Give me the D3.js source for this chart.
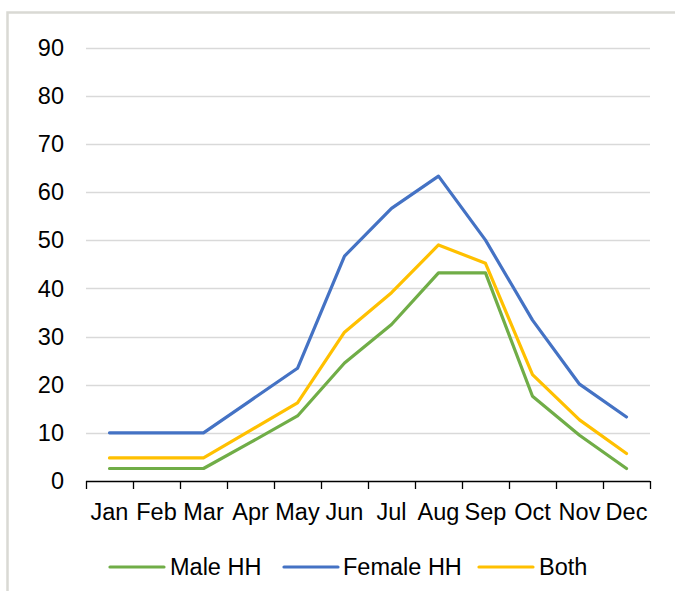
<!DOCTYPE html>
<html>
<head>
<meta charset="utf-8">
<script src="https://cdn.jsdelivr.net/npm/d3@7"></script>
<style>
  html, body { margin: 0; padding: 0; background: #fff; }
  svg { display: block; }
  text { font-family: "Liberation Sans", Arial, sans-serif; fill: #000; }
</style>
</head>
<body>
<script>
const months = ["Jan","Feb","Mar","Apr","May","Jun","Jul","Aug","Sep","Oct","Nov","Dec"];
const maleHH   = [2.6, 2.6, 2.6, 8.0, 13.5, 24.5, 32.5, 43.2, 43.2, 17.6, 9.5, 2.6];
const femaleHH = [10, 10, 10, 16.7, 23.4, 46.7, 56.6, 63.3, 50, 33.4, 20.1, 13.3];
const both     = [4.8, 4.8, 4.8, 10.5, 16.2, 30.9, 39.1, 49, 45.2, 22.1, 12.7, 5.7];
const yTicks = [0,10,20,30,40,50,60,70,80,90];
const seriesNames = ["Male HH","Female HH","Both"];
const seriesColors = ["#70ad47","#4472c4","#ffc000"];
const seriesData = [maleHH, femaleHH, both];

(function () {
const W = 675, H = 591, FS = 23.5;
const svg = d3.select("body").append("svg").attr("width", W).attr("height", H);

// chart frame
svg.append("rect").attr("x", 7.5).attr("y", 12.5).attr("width", 700).attr("height", 700)
  .attr("fill", "none").attr("stroke", "#d9d9d4").attr("stroke-width", 2.5);

const mLeft = 86, mRight = 650, mTop = 47.5, mBottom = 481;
const x = d3.scaleBand().domain(months).range([mLeft, mRight]).padding(0);
const y = d3.scaleLinear().domain([0, 90]).range([mBottom, mTop]);

// gridlines
svg.append("g").selectAll("line").data(yTicks.filter(d => d > 0)).join("line")
  .attr("x1", mLeft).attr("x2", mRight)
  .attr("y1", d => Math.round(y(d)) + 0.5).attr("y2", d => Math.round(y(d)) + 0.5)
  .attr("stroke", "#d9d9d9").attr("stroke-width", 1.5);

// y labels
svg.append("g").selectAll("text").data(yTicks).join("text")
  .attr("x", 64).attr("y", d => y(d)).attr("dy", "0.35em")
  .attr("text-anchor", "end").attr("font-size", FS).text(d => d);

// x axis
const gx = svg.append("g").attr("transform", `translate(0,${mBottom})`);
gx.append("line").attr("x1", mLeft).attr("x2", mRight).attr("y1", 0.5).attr("y2", 0.5)
  .attr("stroke", "#000").attr("stroke-width", 1.3);
const boundaries = months.map(m => x(m)).concat([mRight]);
gx.selectAll("line.tick").data(boundaries).join("line").attr("class", "tick")
  .attr("x1", d => Math.round(d) + 0.5).attr("x2", d => Math.round(d) + 0.5)
  .attr("y1", 0).attr("y2", 8).attr("stroke", "#000").attr("stroke-width", 1.3);
gx.selectAll("text").data(months).join("text")
  .attr("x", d => x(d) + x.bandwidth() / 2).attr("y", 39)
  .attr("text-anchor", "middle").attr("font-size", FS).text(d => d);

// lines
const line = d3.line().x((d, i) => x(months[i]) + x.bandwidth() / 2).y(d => y(d));
seriesData.forEach((s, k) => {
  svg.append("path").datum(s).attr("d", line).attr("fill", "none")
    .attr("stroke", seriesColors[k]).attr("stroke-width", 3.2)
    .attr("stroke-linejoin", "round").attr("stroke-linecap", "round");
});

// legend
const legendItems = [
  {x1: 110, x2: 164, tx: 170},
  {x1: 284, x2: 338, tx: 343},
  {x1: 479, x2: 533, tx: 539}
];
const ly = 567;
seriesNames.forEach((n, k) => {
  const it = legendItems[k];
  svg.append("line").attr("x1", it.x1).attr("x2", it.x2).attr("y1", ly).attr("y2", ly)
    .attr("stroke", seriesColors[k]).attr("stroke-width", 3.2).attr("stroke-linecap", "round");
  svg.append("text").attr("x", it.tx).attr("y", ly).attr("dy", "0.35em")
    .attr("font-size", FS).text(n);
});
})();
</script>
</body>
</html>
